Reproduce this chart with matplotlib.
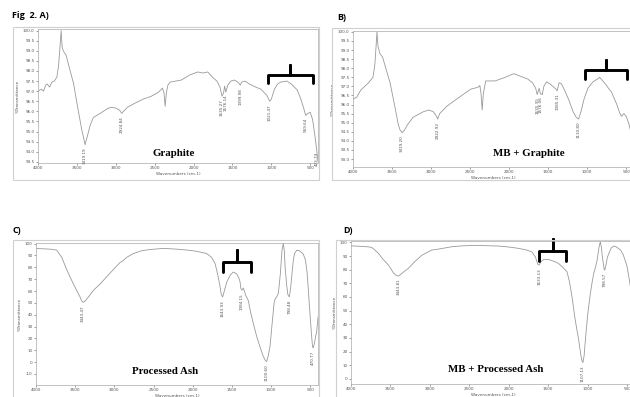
import numpy as np
import matplotlib.pyplot as plt
from matplotlib.patches import Rectangle

#%% spectra (wavenumber, %T)

A_wn = [4000, 3957, 3930, 3900, 3880, 3850, 3821, 3790, 3757, 3735, 3715, 3702, 3690, 3675,
        3660, 3640, 3620, 3600, 3544, 3490, 3438, 3395, 3370, 3330, 3288, 3200, 3100, 3054,
        2990, 2950, 2924, 2900, 2850, 2756, 2650, 2542, 2450, 2400, 2380, 2365, 2350, 2330,
        2300, 2158, 2050, 1945, 1880, 1817, 1760, 1700, 1660, 1635, 1615, 1600, 1585, 1560,
        1520, 1476, 1430, 1400, 1380, 1340, 1280, 1200, 1135, 1060, 1021, 1000, 960, 920,
        880, 800, 740, 666, 620, 580, 559, 530, 500, 470, 440, 420, 400]
A_T = [97.0, 97.1, 97.0, 97.3, 97.35, 97.2, 97.45, 97.5, 97.7, 98.3, 99.3, 100.0, 99.2, 99.0,
       98.9, 98.8, 98.5, 98.2, 97.4, 96.2, 95.1, 94.35, 94.7, 95.3, 95.7, 95.9, 96.15, 96.2,
       96.15, 96.05, 95.9, 96.0, 96.2, 96.4, 96.6, 96.75, 96.95, 97.15, 96.9, 96.25, 96.9, 97.3,
       97.45, 97.55, 97.8, 97.95, 97.9, 97.95, 97.7, 97.5, 97.2, 96.75, 96.9, 97.25, 96.95, 97.3,
       97.5, 97.55, 97.45, 97.3, 97.45, 97.5, 97.35, 97.2, 97.1, 96.8, 96.5, 96.6, 97.1, 97.35,
       97.45, 97.5, 97.35, 97.05, 96.6, 96.1, 95.8, 95.9, 95.95, 95.6, 94.8, 94.2, 93.5]

B_wn = [4000, 3953, 3900, 3850, 3800, 3744, 3720, 3700, 3693, 3680, 3654, 3620, 3580, 3525,
        3460, 3420, 3397, 3370, 3340, 3300, 3230, 3100, 3030, 2970, 2930, 2915, 2890, 2800,
        2640, 2490, 2400, 2375, 2360, 2345, 2330, 2300, 2180, 2050, 1940, 1850, 1760, 1700,
        1660, 1640, 1615, 1600, 1576, 1555, 1520, 1480, 1440, 1400, 1385, 1360, 1330, 1280,
        1230, 1180, 1140, 1110, 1080, 1040, 990, 925, 870, 840, 800, 760, 720, 690, 660, 620,
        580, 560, 530, 500, 470, 440, 400]
B_T = [96.3, 96.4, 96.8, 97.0, 97.2, 97.5, 98.2, 99.5, 100.0, 99.2, 98.8, 98.6, 98.0, 97.2,
       95.8, 94.9, 94.6, 94.45, 94.6, 94.9, 95.3, 95.6, 95.7, 95.6, 95.35, 95.2, 95.5, 95.9,
       96.4, 96.85, 96.95, 97.05, 96.6, 95.7, 96.6, 97.3, 97.3, 97.5, 97.7, 97.55, 97.4, 97.2,
       96.9, 96.55, 96.9, 96.6, 96.55, 97.0, 97.25, 97.15, 97.0, 96.85, 96.75, 97.2, 97.15, 96.7,
       96.2, 95.6, 95.3, 95.2, 95.6, 96.3, 96.9, 97.25, 97.4, 97.5, 97.3, 97.1, 96.85, 96.7, 96.4, 96.0,
       95.5, 95.35, 95.5, 95.35, 95.0, 94.5, 94.0]

C_wn = [4000, 3900, 3800, 3736, 3700, 3672, 3620, 3566, 3500, 3438, 3420, 3400, 3380, 3330,
        3268, 3180, 3098, 3000, 2927, 2900, 2870, 2840, 2757, 2650, 2545, 2400, 2332, 2200,
        2076, 1950, 1821, 1760, 1714, 1680, 1650, 1635, 1617, 1600, 1566, 1520, 1481, 1440,
        1410, 1396, 1384, 1370, 1355, 1340, 1320, 1290, 1260, 1226, 1180, 1141, 1100, 1070,
        1056, 1040, 1013, 985, 960, 949, 920, 906, 880, 860, 843, 830, 821, 800, 785, 766,
        750, 736, 715, 700, 672, 640, 610, 587, 560, 540, 523, 505, 485, 470, 460, 445, 430,
        418, 400]
C_T = [95.8, 95.6, 95.2, 94.5, 91, 88.5, 80, 71.9, 63, 55, 52, 50.5, 51, 55,
       60.5, 66, 72, 79, 84, 85, 86.8, 88.5, 91.6, 94, 95, 95.8, 95.8, 95.3,
       94.6, 93.5, 91.6, 88.5, 83.2, 74, 63.5, 57, 55, 59, 67.3, 73.5, 76, 74.5,
       71, 68, 62, 60.7, 62.5, 60, 56, 52, 42, 32.7, 21, 13, 5, 1.2,
       0.5, 4, 13, 33, 50, 53, 56, 58, 75, 94, 100, 94, 81, 65, 57, 55,
       62, 72, 86, 91.5, 94.4, 94, 92.5, 91, 86, 76, 60.7, 43, 25, 13, 12, 16, 22,
       25, 38]

D_wn = [4000, 3949, 3850, 3780, 3738, 3700, 3653, 3600, 3526, 3460, 3420, 3399, 3370, 3330,
        3272, 3190, 3103, 3040, 2976, 2900, 2722, 2600, 2468, 2300, 2130, 2000, 1876, 1780,
        1707, 1660, 1633, 1615, 1590, 1555, 1500, 1440, 1400, 1368, 1320, 1262, 1230, 1198,
        1160, 1114, 1085, 1070, 1060, 1045, 1029, 1000, 966, 940, 923, 900, 880, 860, 845,
        838, 825, 817, 800, 790, 783, 770, 750, 732, 700, 669, 640, 584, 550, 520, 500, 470,
        450, 420, 400]
D_T = [97.5, 97.3, 97.0, 96.7, 96.3, 94.5, 92, 88, 83.4, 77.5, 75.5, 75.4, 76.5, 78.5,
       81, 86, 90.5, 92.5, 94.4, 95, 96.8, 97.4, 97.8, 97.6, 97.3, 96.6, 95.6, 94.5,
       93, 89, 84, 83.5, 86, 87.6, 87.5, 86.4, 85.5, 84.5, 82, 78.5, 71, 60,
       44, 28.5, 17, 13, 12, 17, 28.5, 47, 62.6, 72, 77.3, 82, 87, 95, 99.5,
       100, 96, 91, 84, 80, 79.7, 83, 89, 91.8, 96, 97.3, 96.8, 94.5, 91, 86, 82, 72,
       64, 55, 50]

# peak picks printed by the instrument (position, label)
A_peaks = [(3395, '3419.19'), (2924, '2924.84'), (1635, '1635.27'), (1585, '1576.14'),
           (1400, '1399.98'), (1021, '1021.47'), (559, '559.64'), (418, '423.74')]
B_peaks = [(3370, '3419.20'), (2915, '2922.92'), (1640, '1635.35'), (1600, '1576.06'),
           (1385, '1385.31'), (1110, '1110.80')]
C_peaks = [(3400, '3443.47'), (1617, '1643.93'), (1370, '1384.15'), (1056, '1100.60'),
           (766, '798.48'), (460, '470.77')]
D_peaks = [(3399, '3443.81'), (1615, '1633.13'), (1060, '1107.13'), (783, '798.57')]

# brace over the region of interest: (left wn, right wn, bar, ends, tip)
A_brace = (1046, 470, 97.8, 97.4, 98.3)
B_brace = (1026, 487, 97.9, 97.4, 98.45)
C_brace = (1612, 1254, 84.3, 75.8, 94.4)
D_brace = (1614, 1272, 93.6, 86.3, 102.4)

#%%

W, H = 630, 397
fig = plt.figure(figsize=(W/100, H/100), dpi=100)
fig.patch.set_facecolor('white')

def px(x0, y0, x1, y1):
    return [x0/W, 1 - y1/H, (x1 - x0)/W, (y1 - y0)/H]

def panel(rect, wn, T, ylim, yticks, yfmt, peaks, brace, name, name_xy):
    ax = fig.add_axes(px(*rect))
    ax.plot(wn, T, color='#999999', lw=0.6)
    ax.set_xlim(4000, 400)
    ax.set_ylim(*ylim)
    ax.set_xticks(np.arange(4000, 499, -500))
    ax.set_yticks(yticks)
    ax.set_yticklabels([yfmt % v for v in yticks])
    ax.tick_params(labelsize=3, length=1.5, width=0.4, pad=1, colors='#555555')
    for s in ax.spines.values():
        s.set_color('#aaaaaa')
        s.set_linewidth(0.5)
    ax.set_xlabel('Wavenumbers (cm-1)', fontsize=3, color='#555555', labelpad=1)
    ax.set_ylabel('%Transmittance', fontsize=3, color='#555555', labelpad=2)
    span = ylim[1] - ylim[0]
    for x, lab in peaks:
        y = np.interp(x, wn[::-1], T[::-1])
        ax.text(x, y - 0.02*span, lab, rotation=90, ha='center', va='top',
                fontsize=3, color='#555555')
    x0, x1, bar, ends, tip = brace
    xc = (x0 + x1)/2
    ax.plot([x0, x0, xc, xc, xc, x1, x1], [ends, bar, bar, tip, bar, bar, ends],
            color='black', lw=2.1, clip_on=False, solid_joinstyle='round',
            solid_capstyle='round')
    ax.text(name_xy[0], name_xy[1], name, transform=fig.transFigure, ha='center',
            va='center', fontsize=7.8, fontweight='bold', family='Liberation Serif')
    return ax

panel((38, 29, 318, 163), A_wn, A_T, (93.44, 100.08), np.arange(93.5, 100.01, 0.5), '%.1f',
      A_peaks, A_brace, 'Graphite', (174/W, 1 - 154/H))
panel((353, 31, 634, 167), B_wn, B_T, (92.56, 100.05), np.arange(93.0, 100.01, 0.5), '%.1f',
      B_peaks, B_brace, 'MB + Graphite', (529/W, 1 - 154/H))
panel((36, 243, 318, 385), C_wn, C_T, (-19.3, 100.5), np.arange(-10, 101, 10), '%d',
      C_peaks, C_brace, 'Processed Ash', (165/W, 1 - 371/H))
panel((351, 241, 635, 384), D_wn, D_T, (-3.7, 101), np.arange(0, 101, 10), '%d',
      D_peaks, D_brace, 'MB + Processed Ash', (496/W, 1 - 370/H))

# grey scan frames round each panel
for r in [(13, 27, 319, 180), (332, 28, 640, 180), (13, 240, 319, 400), (336, 240, 640, 400)]:
    fig.add_artist(Rectangle((r[0]/W, 1 - r[3]/H), (r[2] - r[0])/W, (r[3] - r[1])/H,
                             transform=fig.transFigure, fill=False, ec='#d0d0d0', lw=0.8))

for lab, x, y in [('Fig  2. A)', 12, 15), ('B)', 337, 17), ('C)', 12, 230), ('D)', 343, 230)]:
    fig.text(x/W, 1 - y/H, lab, fontsize=6.5, fontweight='bold', ha='left', va='center',
             family='Open Sans')

fig.savefig('out.png', dpi=100)
